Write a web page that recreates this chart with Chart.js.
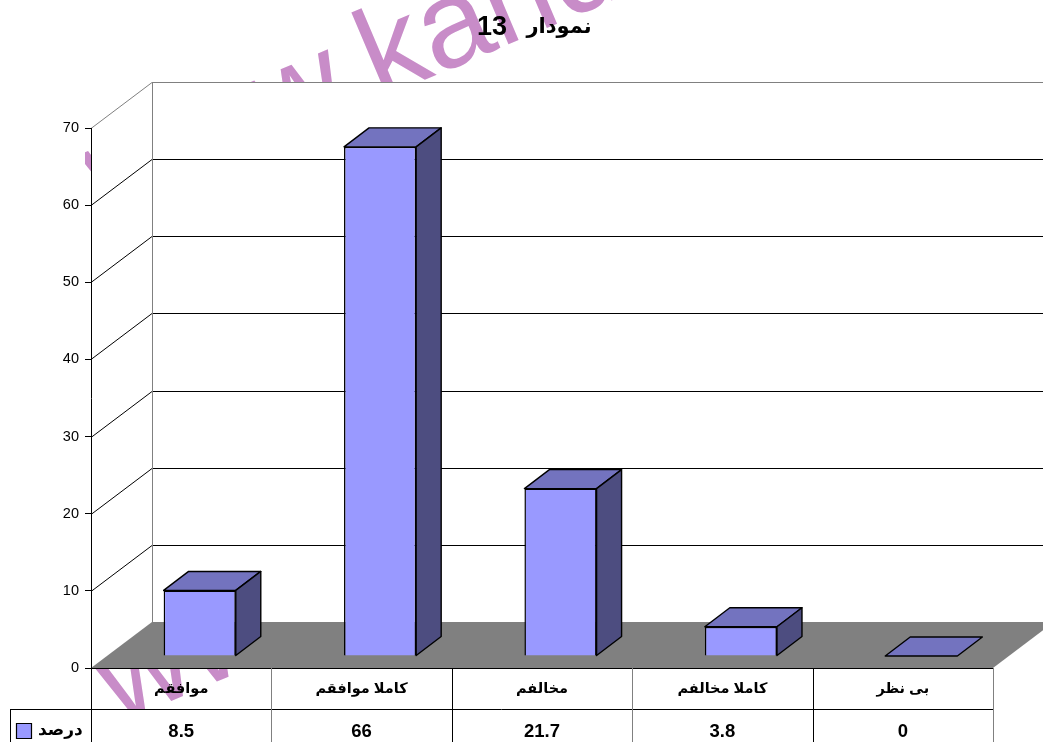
<!DOCTYPE html>
<html>
<head>
<meta charset="utf-8">
<title>نمودار 13</title>
<script src="https://cdn.jsdelivr.net/npm/chart.js@4"></script>
<style>
  html, body { margin: 0; padding: 0; background: #fff; overflow: hidden; }
  canvas { display: block; }
</style>
</head>
<body>
<canvas id="chart13" width="1043" height="742"></canvas>
<script>
const categories = ["موافقم", "کاملا موافقم", "مخالفم", "کاملا مخالفم", "بی نظر"];
const seriesValues = [8.5, 66, 21.7, 3.8, 0];
const valueLabels = ["8.5", "66", "21.7", "3.8", "0"];
const seriesLabel = "درصد";
const titleWord = "نمودار";
const titleNumber = "13";
const watermarkLines = ["www.kandoo", "www.kan"];

const FONT = '"Liberation Sans", Arial, "DejaVu Sans", sans-serif';
const WALL_DX = 61, WALL_DY = 46;      // depth of the fake 3d room
const BAR_DX = 18.5, BAR_DY = 12;      // bars sit part way into the floor
const BOX_DX = 25, BOX_DY = 19;        // depth of one bar

function poly(ctx, pts, fill, stroke, lw) {
  ctx.beginPath();
  pts.forEach((p, i) => (i ? ctx.lineTo(p[0], p[1]) : ctx.moveTo(p[0], p[1])));
  ctx.closePath();
  if (fill) { ctx.fillStyle = fill; ctx.fill(); }
  if (stroke) { ctx.strokeStyle = stroke; ctx.lineWidth = lw || 1; ctx.stroke(); }
}

function line(ctx, x1, y1, x2, y2, color, lw) {
  ctx.beginPath();
  ctx.moveTo(x1, y1);
  ctx.lineTo(x2, y2);
  ctx.strokeStyle = color;
  ctx.lineWidth = lw || 1;
  ctx.stroke();
}

const room3d = {
  id: "room3d",
  beforeDraw(chart) {
    const ctx = chart.ctx;
    ctx.save();
    ctx.fillStyle = "#fff";
    ctx.fillRect(0, 0, chart.width, chart.height);
    // watermark sits under the chart, the walls cover most of it
    ctx.beginPath();
    ctx.rect(85, 0, chart.width, 709);
    ctx.clip();
    ctx.fillStyle = "#c88cc8";
    ctx.font = "125px " + FONT;
    ctx.textBaseline = "alphabetic";
    ctx.save();
    ctx.translate(104, 216);
    ctx.rotate(-23 * Math.PI / 180);
    ctx.fillText(watermarkLines[0], 0, 0);
    ctx.restore();
    ctx.save();
    ctx.translate(117, 724);
    ctx.rotate(-23 * Math.PI / 180);
    ctx.fillText(watermarkLines[1], 0, 0);
    ctx.restore();
    ctx.restore();
  },
  beforeDatasetsDraw(chart) {
    const ctx = chart.ctx, a = chart.chartArea, y = chart.scales.y;
    ctx.save();
    // walls
    poly(ctx, [[a.left, a.bottom], [a.left, a.top], [a.left + WALL_DX, a.top - WALL_DY],
      [a.right + WALL_DX, a.top - WALL_DY], [a.right + WALL_DX, a.bottom - WALL_DY],
      [a.right, a.bottom]], "#fff");
    y.ticks.forEach((t) => {
      const py = Math.round(y.getPixelForValue(t.value)) + 0.5;
      const c = t.value === 70 ? "#808080" : "#000";
      if (t.value > 0) {
        line(ctx, a.left, py, a.left + WALL_DX, py - WALL_DY, c);
        line(ctx, a.left + WALL_DX, py - WALL_DY, a.right + WALL_DX, py - WALL_DY, c);
      }
    });
    line(ctx, a.left + WALL_DX + 0.5, a.top - WALL_DY, a.left + WALL_DX + 0.5, a.bottom - WALL_DY, "#808080");
    // floor
    poly(ctx, [[a.left, a.bottom], [a.left + WALL_DX, a.bottom - WALL_DY],
      [a.right + WALL_DX, a.bottom - WALL_DY], [a.right, a.bottom]], "#808080");
    ctx.restore();
  },
  beforeDatasetDraw(chart) {
    const ctx = chart.ctx;
    ctx.save();
    ctx.translate(BAR_DX, -BAR_DY);
  },
  afterDatasetDraw(chart, args) {
    const ctx = chart.ctx;
    args.meta.data.forEach((bar) => {
      const p = bar.getProps(["x", "y", "base", "width"], true);
      const l = p.x - p.width / 2, r = p.x + p.width / 2;
      ctx.lineJoin = "round";
      poly(ctx, [[l, p.y], [l + BOX_DX, p.y - BOX_DY], [r + BOX_DX, p.y - BOX_DY], [r, p.y]], "#7373bf", "#000", 1.4);
      if (p.base - p.y > 0.5) {
        poly(ctx, [[r, p.y], [r + BOX_DX, p.y - BOX_DY], [r + BOX_DX, p.base - BOX_DY], [r, p.base]], "#4d4d80", "#000", 1.4);
      }
    });
    ctx.restore();
  },
  afterDraw(chart) {
    const ctx = chart.ctx, a = chart.chartArea, x = chart.scales.x;
    const h = chart.height, rowY = 709.5, colors = ["#000", "#808080"];
    ctx.save();
    // data table grid
    line(ctx, a.left, a.bottom + 0.5, a.right, a.bottom + 0.5, "#000");
    line(ctx, 10, rowY, a.right, rowY, "#000");
    line(ctx, 10.5, rowY, 10.5, h, "#000");
    for (let i = 0; i <= categories.length; i++) {
      const px = Math.round(a.left + i * x.width / categories.length) + 0.5;
      line(ctx, px, a.bottom, px, h, colors[i % 2]);
    }
    // legend cell
    poly(ctx, [[16.5, 723.5], [31.5, 723.5], [31.5, 738.5], [16.5, 738.5]], "#9999ff", "#000", 1.2);
    ctx.fillStyle = "#000";
    ctx.font = "bold 17px " + FONT;
    ctx.textAlign = "left";
    ctx.textBaseline = "middle";
    ctx.fillText(seriesLabel, 38, 730);
    // title, number is bigger than the word in the original
    ctx.textAlign = "center";
    ctx.font = "bold 21px " + FONT;
    ctx.fillText(titleWord, 559, 27);
    ctx.font = "bold 27px " + FONT;
    ctx.fillText(titleNumber, 492, 28);
    ctx.restore();
  }
};

new Chart(document.getElementById("chart13"), {
  type: "bar",
  data: {
    labels: categories,
    datasets: [{
      label: seriesLabel,
      data: seriesValues,
      backgroundColor: "#9999ff",
      borderColor: "#000",
      borderWidth: 1.5,
      barPercentage: 0.4,
      categoryPercentage: 1
    }]
  },
  options: {
    responsive: false,
    animation: false,
    layout: { padding: { top: 128, right: 50, left: 0, bottom: 0 } },
    plugins: {
      legend: { display: false },
      tooltip: { enabled: false }
    },
    scales: {
      y: {
        min: 0,
        max: 70,
        afterFit(s) { s.width = 91; },
        ticks: { stepSize: 10, color: "#000", font: { family: FONT, size: 14.5 }, padding: 6 },
        grid: { drawOnChartArea: false, tickLength: 6, tickColor: "#000" },
        border: { color: "#000", z: 1 }
      },
      x: {
        weight: 0,
        afterFit(s) { s.height = 41; },
        ticks: { color: "#000", font: { family: FONT, size: 14.5, weight: "bold" }, padding: 12, maxRotation: 0 },
        grid: { display: false, drawTicks: false },
        border: { display: false }
      },
      xv: {
        type: "category",
        position: "bottom",
        weight: 1,
        labels: valueLabels,
        offset: true,
        afterFit(s) { s.height = 33; },
        ticks: { color: "#000", font: { family: FONT, size: 18.5, weight: "bold" }, padding: 12, maxRotation: 0 },
        grid: { display: false, drawTicks: false },
        border: { display: false }
      }
    }
  },
  plugins: [room3d]
});
</script>
</body>
</html>
